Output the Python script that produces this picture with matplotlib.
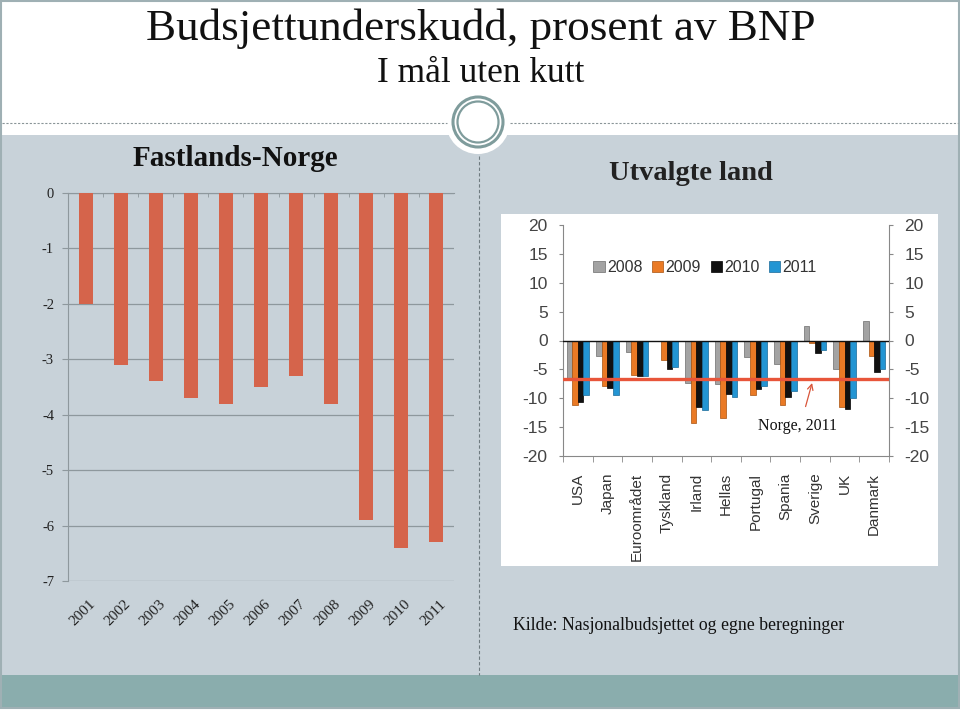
import matplotlib.pyplot as plt
from matplotlib.patches import Rectangle, Circle
from matplotlib.transforms import ScaledTranslation
import numpy as np

# Fastlands-Norge, prosent av BNP
years = ["2001", "2002", "2003", "2004", "2005", "2006", "2007", "2008", "2009", "2010", "2011"]
norge = [-2.0, -3.1, -3.4, -3.7, -3.8, -3.5, -3.3, -3.8, -5.9, -6.4, -6.3]
norge_ticks = [0, -1, -2, -3, -4, -5, -6, -7]
norge_ticklabels = ["0", "-1", "-2", "-3", "-4", "-5", "-6", "-7"]

# Utvalgte land
land = ["USA", "Japan", "Euroområdet", "Tyskland", "Irland", "Hellas",
        "Portugal", "Spania", "Sverige", "UK", "Danmark"]
series_names = ["2008", "2009", "2010", "2011"]
d2008 = [-6.5, -2.7, -2.0, -0.1, -7.3, -7.6, -2.8, -4.1, 2.5, -4.9, 3.4]
d2009 = [-11.2, -7.8, -6.0, -3.3, -14.2, -13.5, -9.4, -11.2, -0.5, -11.5, -2.7]
d2010 = [-10.7, -8.2, -6.2, -4.9, -11.6, -9.2, -8.4, -9.8, -2.1, -11.9, -5.5]
d2011 = [-9.4, -9.4, -6.2, -4.6, -12.1, -9.8, -7.8, -8.7, -1.6, -9.9, -4.9]
norge_2011 = -6.6
land_ticks = [20, 15, 10, 5, 0, -5, -10, -15, -20]

W, H = 960, 712
SERIF = ["Liberation Serif", "DejaVu Serif"]
SANS = ["Liberation Sans", "DejaVu Sans"]

BG = "#c8d2d9"
TEAL = "#8aadad"
RING = "#7f9c9c"

fig = plt.figure(figsize=(W / 100, H / 100), dpi=100)
fig.patch.set_facecolor("white")


def px_axes(x0, y0, x1, y1):
    # axes from pixel box (top-left origin)
    return fig.add_axes([x0 / W, 1 - y1 / H, (x1 - x0) / W, (y1 - y0) / H])


# slide background
bg = fig.add_axes([0, 0, 1, 1])
bg.set_xlim(0, W)
bg.set_ylim(H, 0)
bg.axis("off")
bg.add_patch(Rectangle((0, 135), W, 540, facecolor=BG, edgecolor="none"))
bg.add_patch(Rectangle((0, 675), W, 33, facecolor=TEAL, edgecolor="none"))
bg.add_patch(Rectangle((1, 1), W - 2, 707, facecolor="none", edgecolor="#9fb0b4", lw=1.5))
bg.plot([2, 447], [123, 123], color="#8a9598", lw=0.8, ls=(0, (2, 1.5)))
bg.plot([510, 958], [123, 123], color="#8a9598", lw=0.8, ls=(0, (2, 1.5)))
bg.plot([479, 479], [156, 675], color="#6f7b80", lw=0.8, ls=(0, (3, 2)))
bg.add_patch(Circle((478, 122), 32, facecolor="white", edgecolor="none"))
bg.add_patch(Circle((478, 122), 25, facecolor="none", edgecolor=RING, lw=2.2))
bg.add_patch(Circle((478, 122), 20.5, facecolor="none", edgecolor=RING, lw=1.6))
bg.add_patch(Rectangle((501, 214), 437, 352, facecolor="white", edgecolor="none"))

bg.text(481, 29, "Budsjettunderskudd, prosent av BNP", ha="center", va="center",
        fontsize=32.5, family=SERIF, color="#111111")
bg.text(481, 73, "I mål uten kutt", ha="center", va="center",
        fontsize=25.5, family=SERIF, color="#111111")
bg.text(235, 158, "Fastlands-Norge", ha="center", va="center",
        fontsize=21, family=SERIF, fontweight="bold", color="#111111")
bg.text(691, 173, "Utvalgte land", ha="center", va="center",
        fontsize=20.5, family=SERIF, fontweight="bold", color="#222222")
bg.text(513, 626, "Kilde: Nasjonalbudsjettet og egne beregninger", ha="left", va="center",
        fontsize=12.8, family=SERIF, color="#111111")

# left chart
ax = px_axes(68, 193, 454, 581)
ax.patch.set_alpha(0)
x = np.arange(len(years))
ax.bar(x, norge, width=0.4, color="#d5644b", zorder=3)
ax.set_xlim(-0.5, len(years) - 0.5)
ax.set_ylim(-7, 0)
ax.set_yticks(norge_ticks)
ax.set_yticklabels(norge_ticklabels, family=SERIF, fontsize=10.5, color="#222222")
ax.yaxis.grid(True, color="#8e989d", lw=0.9)
ax.set_axisbelow(True)
for s in ["right", "bottom"]:
    ax.spines[s].set_visible(False)
ax.spines["left"].set_color("#8e989d")
ax.spines["top"].set_color("#8e989d")
ax.tick_params(axis="y", length=4, color="#8e989d", pad=6)
ax.set_xticks(x)
ax.set_xticklabels(years, rotation=45, ha="right", va="top", rotation_mode="anchor",
                   family=SERIF, fontsize=11, color="#222222")
ax.tick_params(axis="x", which="major", length=0, pad=12)
ax.set_xticks(x[:-1] + 0.5, minor=True)
ax.tick_params(axis="x", which="minor", bottom=False, top=True, length=3,
               direction="in", color="#8e989d")
for lbl in ax.get_xticklabels():
    lbl.set_transform(lbl.get_transform() + ScaledTranslation(0.03, 0, fig.dpi_scale_trans))

# right chart
ax2 = px_axes(563, 225, 889, 456)
ax2.patch.set_alpha(0)
xl = np.arange(len(land))
bw = 0.19
cols = ["#a3a3a3", "#ea7a25", "#111111", "#2395d3"]
edges = ["#6e6e6e", "#a8520f", "#000000", "#1a6a98"]
for i, (vals, c, e, name) in enumerate(zip([d2008, d2009, d2010, d2011], cols, edges, series_names)):
    ax2.bar(xl + (i - 1.5) * bw, vals, width=bw, color=c, edgecolor=e, lw=0.5,
            label=name, zorder=3)
ax2.axhline(0, color="#111111", lw=1.0, zorder=4)
ax2.axhline(norge_2011, color="#e8553a", lw=2.4, zorder=5)
ax2.set_xlim(-0.5, len(land) - 0.5)
ax2.set_ylim(-20, 20)
ax2.set_yticks(land_ticks)
ax2.set_yticklabels([str(t) for t in land_ticks], family=SANS, fontsize=12.5, color="#444444")
ax2.tick_params(axis="y", which="both", left=True, right=True, labelright=True,
                length=3, direction="out", color="#888888", pad=8)
ax2.spines["top"].set_visible(False)
for s in ["left", "right", "bottom"]:
    ax2.spines[s].set_color("#888888")
ax2.set_xticks(xl)
ax2.set_xticklabels(land, rotation=90, ha="center", va="top", family=SANS,
                    fontsize=11, color="#333333")
ax2.tick_params(axis="x", which="major", length=0, pad=12)
ax2.set_xticks(np.arange(len(land) + 1) - 0.5, minor=True)
ax2.tick_params(axis="x", which="minor", length=4, direction="out", color="#888888")
leg = ax2.legend(loc="center", bbox_to_anchor=(0.436, 0.815), ncol=4, frameon=False,
                 handlelength=0.7, handleheight=0.7, handletextpad=0.15,
                 columnspacing=0.6, prop={"family": SANS, "size": 11.5})
for t in leg.get_texts():
    t.set_color("#333333")
ax2.annotate("", xy=(7.93, -6.9), xytext=(7.66, -11.9),
             arrowprops=dict(arrowstyle="->", color="#d9553a", lw=0.9), zorder=6)
ax2.text(7.4, -14.8, "Norge, 2011", ha="center", va="center", family=SERIF,
         fontsize=11.5, color="#111111")

fig.savefig("out.png", dpi=100)
